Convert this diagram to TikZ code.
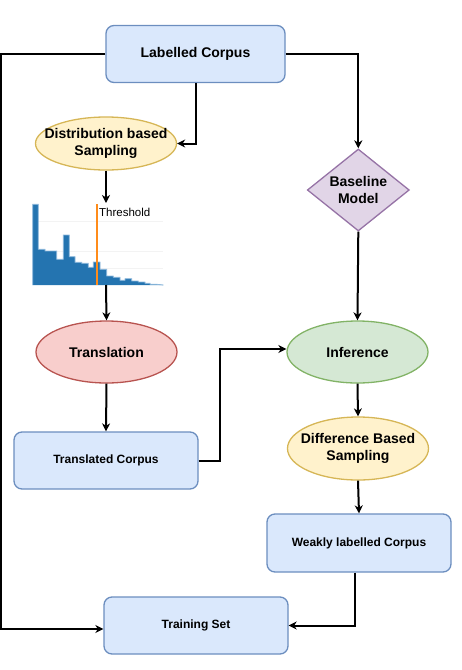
\documentclass[tikz,border=0pt]{standalone}
\usepackage{fontspec}
\setmainfont{Liberation Sans}
\usetikzlibrary{shapes.geometric,arrows.meta}
\definecolor{bluefill}{HTML}{DAE8FC}
\definecolor{bluedraw}{HTML}{6C8EBF}
\definecolor{yelfill}{HTML}{FFF2CC}
\definecolor{yeldraw}{HTML}{D6B656}
\definecolor{redfill}{HTML}{F8CECC}
\definecolor{reddraw}{HTML}{B85450}
\definecolor{grnfill}{HTML}{D5E8D4}
\definecolor{grndraw}{HTML}{82B366}
\definecolor{purfill}{HTML}{E1D5E7}
\definecolor{purdraw}{HTML}{9673A6}
\definecolor{barblue}{HTML}{2474B0}
\definecolor{baredge}{HTML}{8DB8DC}
\definecolor{throrange}{HTML}{FF8C1A}
\definecolor{gridgray}{HTML}{F3F3F3}
\tikzset{
  boxnode/.style={draw=bluedraw, fill=bluefill, line width=1.3pt, rounded corners=8pt,
    minimum width=179pt, minimum height=57pt, inner sep=0pt, align=center,
    font=\fontsize{12}{14.4}\selectfont\bfseries},
  bigboxfont/.style={font=\fontsize{14}{16.8}\selectfont\bfseries},
  ellnode/.style={ellipse, line width=1.3pt, minimum width=141pt, minimum height=62pt,
    inner xsep=-14pt, inner ysep=0pt, align=center, font=\fontsize{14}{16.8}\selectfont\bfseries},
  arr/.style={line width=2pt, -{Stealth[length=8pt,width=8pt,inset=2.5pt]}},
  conn/.style={line width=2pt}
}
\begin{document}
\begin{tikzpicture}[x=1pt,y=-1pt]
\useasboundingbox (0,0) rectangle (462,670);
% nodes
\node[boxnode, bigboxfont] (lc) at (195.5,54) {Labelled Corpus};
\node[ellnode, draw=yeldraw, fill=yelfill, minimum height=53pt] (dist) at (106,143.5) {Distribution based\\Sampling};
\node[diamond, draw=purdraw, fill=purfill, line width=1.3pt, shape aspect=1.244,
  minimum width=102pt, minimum height=82pt, inner sep=0pt, align=center,
  font=\fontsize{14}{16.8}\selectfont\bfseries] (bm) at (358.3,190) {Baseline\\Model};
\node[ellnode, draw=reddraw, fill=redfill] (tr) at (106.5,352) {Translation};
\node[ellnode, draw=grndraw, fill=grnfill] (inf) at (357.5,352) {Inference};
\node[boxnode, minimum width=184pt] (tc) at (106,460.5) {Translated Corpus};
\node[ellnode, draw=yeldraw, fill=yelfill, minimum height=63pt] (diff) at (358,448.5) {Difference Based\\Sampling};
\node[boxnode, minimum width=184pt, minimum height=58pt] (wl) at (359,543) {Weakly labelled Corpus};
\node[boxnode, minimum width=184pt] (ts) at (196,625.5) {Training Set};
% histogram
\coordinate (histtop) at (106,203);
\coordinate (histbot) at (106,285);
\foreach \yy in {221.7,251.7,268.3} \draw[gridgray, line width=0.6pt] (32.7,\yy) -- (163.3,\yy);
\fill[barblue] (32.7,285) -- (32.7,204.3) -- (38.3,204.3) -- (38.3,249.3) -- (45,249.3) -- (45,251)
  -- (56.7,251) -- (56.7,259.3) -- (63.3,259.3) -- (63.3,235) -- (69.3,235) -- (69.3,256.7)
  -- (75,256.7) -- (75,262.3) -- (81.7,262.3) -- (81.7,263.3) -- (88.3,263.3) -- (88.3,267.3)
  -- (93.3,267.3) -- (93.3,262) -- (100,262) -- (100,269.3) -- (106.7,269.3) -- (106.7,276)
  -- (113.3,276) -- (113.3,277.3) -- (120,277.3) -- (120,280.3) -- (125,280.3) -- (125,278.7)
  -- (131.7,278.7) -- (131.7,281) -- (138.3,281) -- (138.3,282) -- (145,282) -- (145,283.3)
  -- (150,283.3) -- (150,284.3) -- (156.7,284.3) -- (163.3,285) -- cycle;
\draw[baredge, line width=0.8pt] (32.7,285) -- (32.7,204.3) -- (38.3,204.3) -- (38.3,249.3) -- (45,249.3) -- (45,251)
  -- (56.7,251) -- (56.7,259.3) -- (63.3,259.3) -- (63.3,235) -- (69.3,235) -- (69.3,256.7)
  -- (75,256.7) -- (75,262.3) -- (81.7,262.3) -- (81.7,263.3) -- (88.3,263.3) -- (88.3,267.3)
  -- (93.3,267.3) -- (93.3,262) -- (100,262) -- (100,269.3) -- (106.7,269.3) -- (106.7,276)
  -- (113.3,276) -- (113.3,277.3) -- (120,277.3) -- (120,280.3) -- (125,280.3) -- (125,278.7)
  -- (131.7,278.7) -- (131.7,281) -- (138.3,281) -- (138.3,282) -- (145,282) -- (145,283.3)
  -- (150,283.3) -- (150,284.3) -- (156.7,284.3) -- (163.3,285);
\draw[throrange, line width=2pt] (97.3,204) -- (97.3,285);
\node[anchor=west, inner sep=0pt, font=\fontsize{11.5}{13}\selectfont] (thr) at (99,212) {Threshold};
% connectors
\draw[arr] (lc.west) -- ++(-104,0) |- ([yshift=-3.5pt]ts.west);
\draw[arr] (lc.east) -| (bm.north);
\draw[arr] (lc.south) |- (dist.east);
\draw[arr] (dist.south) -- (histtop);
\draw[arr] (histbot) -- (tr.north);
\draw[arr] (tr.south) -- (tc.north);
\draw[arr] (tc.east) -- ++(21,0) |- ([yshift=3pt]inf.west);
\draw[arr] (bm.south) -- (inf.north);
\draw[arr] (inf.south) -- (diff.north);
\draw[arr] (diff.south) -- (wl.north);
\draw[arr] ([xshift=-4pt]wl.south) |- (ts.east);
\end{tikzpicture}
\end{document}
